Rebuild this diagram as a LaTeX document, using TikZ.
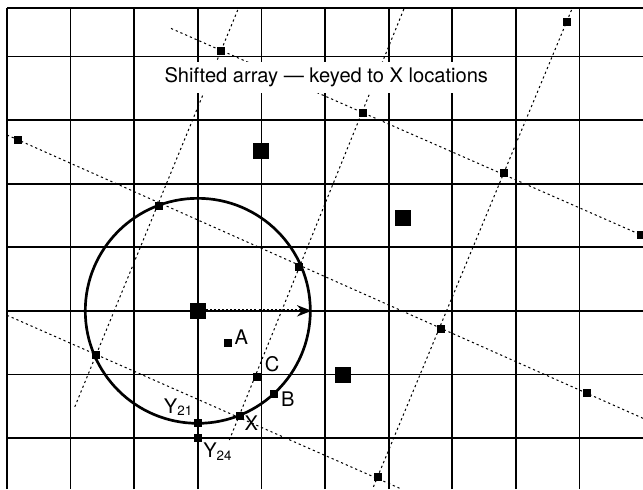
\documentclass[tikz,border=0pt]{standalone}
\usepackage{fontspec}
\setmainfont{TeX Gyre Heros}
\usepackage{tikz}
\usetikzlibrary{arrows.meta}
\tikzset{
  gridln/.style={line width=0.8pt, draw=black},
  latline/.style={line width=0.45pt, dash pattern=on 1pt off 1.3pt},
  bigpt/.style={rectangle, fill=black, minimum size=0.25cm, inner sep=0pt},
  smallpt/.style={rectangle, fill=black, minimum size=0.13cm, inner sep=0pt},
  lab/.style={font=\fontsize{9}{11}\selectfont, inner sep=0pt},
  scanring/.style={circle, draw, line width=1.2pt, minimum size=3.538cm, inner sep=0pt},
  shiftarr/.style={-{Stealth[length=6.5pt, width=5pt]}, line width=1.4pt, dash pattern=on 0.9pt off 0.9pt},
}

\begin{document}
\begin{tikzpicture}
    \useasboundingbox (-0.11,-0.802) rectangle (10.0,6.887);
    % grid
    \foreach \x in {0,...,9}{
      \draw[gridln] (\x,-0.802) -- (\x,6.761);
    }
    \foreach \y in {0,...,6}{
      \draw[gridln] (0,\y) -- (10.0,\y);
    }
    \draw[gridln] (0,6.761) -- (10.0,6.761);
    % ends of the shifted rows and columns
    \coordinate (d1a) at (2.579,6.44);
    \coordinate (d1b) at (10.0,3.18);
    \coordinate (d2a) at (0,4.765);
    \coordinate (d2b) at (10.0,0.31);
    \coordinate (d3a) at (0,1.93);
    \coordinate (d3b) at (6.2,-0.802);
    \coordinate (u1a) at (3.628,6.73);
    \coordinate (u1b) at (1.06,0.476);
    \coordinate (u2a) at (6.24,6.745);
    \coordinate (u2b) at (3.485,-0.058);
    \coordinate (u3a) at (8.876,6.73);
    \coordinate (u3b) at (5.747,-0.802);
    \foreach \a/\b in {d1a/d1b, d2a/d2b, d3a/d3b, u1a/u1b, u2a/u2b, u3a/u3b}{
      \draw[latline] (\a) -- (\b);
    }
    % original array
    \node[bigpt] (q0) at (3,2) {};
    \node[bigpt] (q1) at (4,4.51) {};
    \node[bigpt] (q2) at (6.23,3.455) {};
    \node[bigpt] (q3) at (5.28,0.99) {};
    \node[scanring] (circ) at (q0) {};
    % shifted array
    \foreach \n/\p in {s1/{3.365,6.09}, s2/{5.593,5.115}, s3/{7.81,4.162}, s4/{9.964,3.192},
        s5/{8.8,6.546}, s6/{0.178,4.686}, s7/{2.39,3.653}, s8/{4.596,2.693},
        s9/{6.819,1.719}, s10/{9.115,0.703}, s11/{1.395,1.305}, s12/{5.829,-0.608}}{
      \node[smallpt] (\n) at (\p) {};
    }
    \node[smallpt] (pA) at (3.475,1.498) {};
    \node[smallpt] (pC) at (3.94,0.96) {};
    \node[smallpt] (pB) at (4.198,0.692) {};
    \node[smallpt] (pX) at (3.664,0.346) {};
    \node[smallpt] (pY21) at (3,0.231) {};
    \node[smallpt] (pY24) at (3,0) {};
    \draw[shiftarr] (q0) -- (circ.east);
    % labels
    \node[lab] (tA) at (3.683,1.584) {A};
    \node[lab] (tC) at (4.167,1.16) {C};
    \node[lab] (tB) at (4.415,0.618) {B};
    \node[lab] (tX) at (3.84,0.236) {X};
    \node[lab] (tY21) at (2.7,0.487) {Y\textsubscript{21}};
    \node[lab] (tY24) at (3.318,-0.215) {Y\textsubscript{24}};
    \node[lab, fill=white, inner xsep=2pt, inner ysep=2.5pt, anchor=base] (title) at (5.02,5.587) {Shifted array — keyed to X locations};
\end{tikzpicture}
\end{document}
